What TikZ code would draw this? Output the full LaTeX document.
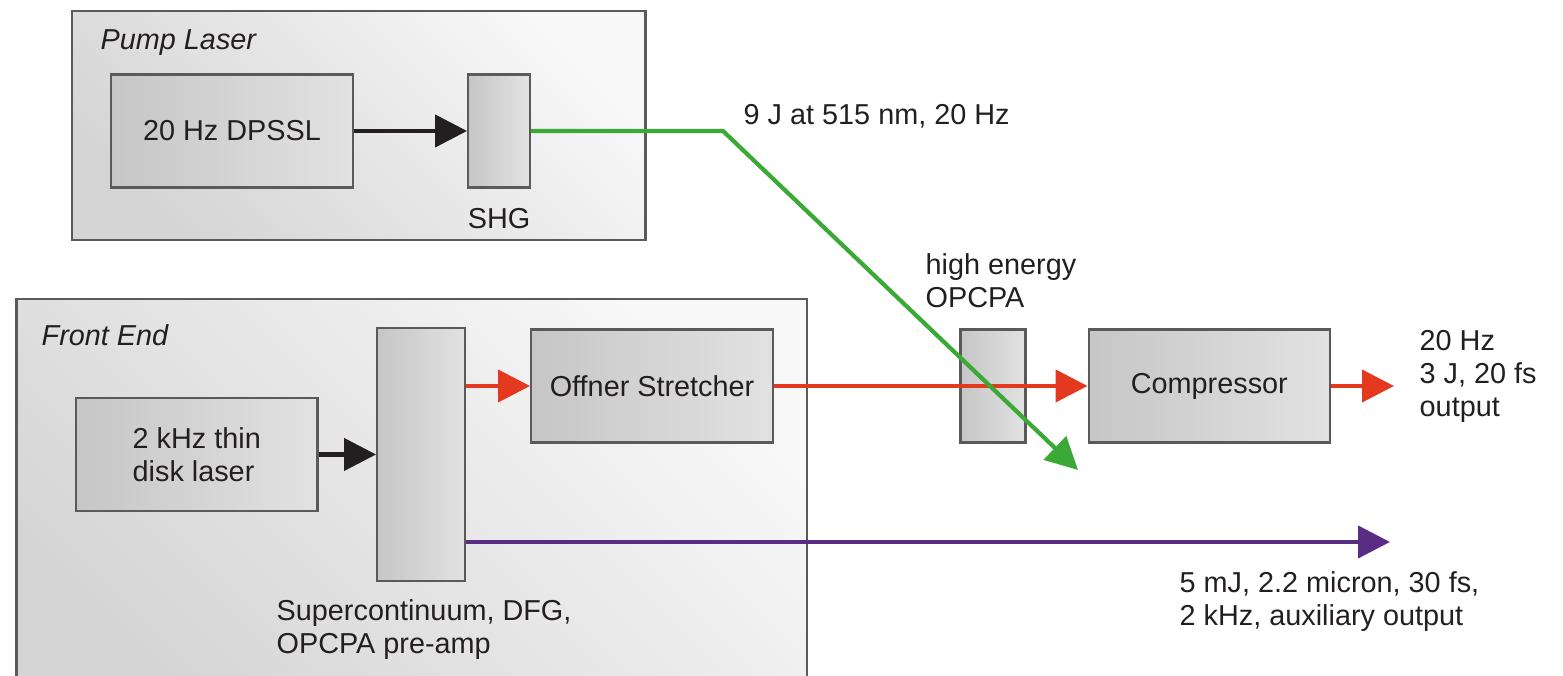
\documentclass[tikz,border=0pt]{standalone}
\usepackage{fontspec}
\setmainfont{Liberation Sans}
\usetikzlibrary{arrows.meta,positioning}
\definecolor{ink}{HTML}{231F20}
\definecolor{boxline}{HTML}{5A5A5A}
\definecolor{groupTop}{HTML}{F8F8F8}
\definecolor{groupBottom}{HTML}{D5D5D5}
\definecolor{unitLeft}{HTML}{C6C6C6}
\definecolor{unitRight}{HTML}{E2E2E2}
\definecolor{beamGreen}{HTML}{3AA935}
\definecolor{beamRed}{HTML}{E5391F}
\definecolor{beamPurple}{HTML}{5B2C83}
\tikzset{
  groupbox/.style={draw=boxline, line width=0.6pt, top color=groupTop,
    bottom color=groupBottom, shading angle=-45, inner sep=0pt},
  unitbox/.style={draw=boxline, line width=0.6pt, left color=unitLeft,
    right color=unitRight, minimum height=1.13cm, inner sep=0pt,
    align=left, text=ink},
  lbl/.style={inner sep=0pt, align=left, text=ink},
  arr/.style={-{Triangle[length=3.2mm, width=3.2mm]}, line width=1.2pt, draw=ink},
  greenarr/.style={arr, draw=beamGreen},
  redarr/.style={arr, draw=beamRed},
  purplearr/.style={arr, draw=beamPurple}
}
\begin{document}
\begin{tikzpicture}[every node/.style={font=\fontsize{8.2}{9.3}\selectfont}]
    \useasboundingbox (0,0) rectangle (15.63,6.76);
    \clip (0,0) rectangle (15.63,6.76);
    % group frames
    \node[groupbox, minimum width=5.735cm, minimum height=2.29cm] (pump) at (3.5875,5.505) {};
    \node[groupbox, minimum width=7.905cm, minimum height=4.07cm] (front) at (4.1175,1.735) {};
    \node[lbl, anchor=north west, font=\fontsize{8.2}{9.3}\selectfont\itshape] (pumptitle) at (1.00,6.47) {Pump Laser};
    \node[lbl, anchor=north west, font=\fontsize{8.2}{9.3}\selectfont\itshape] (fronttitle) at (0.41,3.52) {Front End};
    % pump laser
    \node[unitbox, minimum width=2.42cm] (dpssl) at (2.32,5.45) {20 Hz DPSSL};
    \node[unitbox, minimum width=0.62cm, right=1.13cm of dpssl] (shg) {};
    \node[lbl, below=0.19cm of shg] (shglabel) {SHG};
    % front end
    \node[unitbox, minimum width=2.415cm] (disk) at (1.9675,2.215) {2 kHz thin\\disk laser};
    \node[unitbox, minimum width=0.88cm, minimum height=2.53cm, right=0.575cm of disk] (sc) {};
    \node[unitbox, minimum width=2.42cm, anchor=west] (offner) at (5.30,2.90) {Offner Stretcher};
    \node[lbl, anchor=north west] (sclabel) at (2.76,0.77) {Supercontinuum, DFG,\\OPCPA pre-amp};
    % main chain
    \node[unitbox, minimum width=0.65cm] (opcpa) at (9.93,2.90) {};
    \node[unitbox, minimum width=2.415cm, right=0.61cm of opcpa] (comp) {Compressor};
    \node[lbl, anchor=north west] (opcpalabel) at (9.25,4.23) {high energy\\OPCPA};
    \coordinate (bend) at (7.23,5.45);
    \coordinate (pumptip) at (10.78,2.06);
    \coordinate (outtip) at (13.94,2.90);
    \coordinate (auxtip) at (13.90,1.34);
    \draw[arr] (dpssl) -- (shg);
    \draw[arr] (disk) -- (sc);
    \draw[redarr] (sc.east |- offner.west) -- (offner);
    \draw[redarr] (offner) -- (comp);
    \draw[redarr] (comp) -- (outtip);
    \draw[purplearr] (sc.east |- auxtip) -- (auxtip);
    \draw[greenarr] (shg) -- (bend) -- (pumptip);
    \node[lbl, anchor=north west] (pumpout) at (7.43,5.72) {9 J at 515 nm, 20 Hz};
    \node[lbl, anchor=north west] (mainout) at (14.19,3.46) {20 Hz\\3 J, 20 fs\\output};
    \node[lbl, anchor=north west] (auxout) at (11.79,1.05) {5 mJ, 2.2 micron, 30 fs,\\2 kHz, auxiliary output};
  \end{tikzpicture}
\end{document}
